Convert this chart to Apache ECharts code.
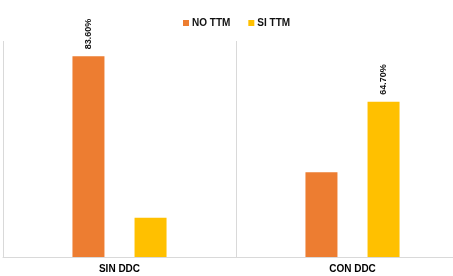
<!DOCTYPE html>
<html><head><meta charset="utf-8">
<script src="https://cdn.jsdelivr.net/npm/echarts@6/dist/echarts.min.js"></script>
<style>html,body{margin:0;padding:0;background:#fff;overflow:hidden}#wrap{width:453px;height:276px;overflow:hidden}#c{width:469px;height:276px}</style>
</head><body><div id="wrap"><div id="c"></div></div>
<script>
const categories = ['SIN DDC', 'CON DDC'];
const seriesNames = ['NO TTM', 'SI TTM'];
const noTtm = [83.6, 35.3];
const siTtm = [16.4, 64.7];
const labelShown = [[true, false], [false, true]];
const colors = ['#ED7D31', '#FFC000'];

const chart = echarts.init(document.getElementById('c'), null, {renderer: 'canvas'});
function mk(name, vals, idx) {
  return {
    name: name, type: 'bar', barWidth: 32, barGap: '94%',
    itemStyle: {color: colors[idx]},
    data: vals.map((v, i) => ({
      value: v,
      label: {
        show: labelShown[idx][i], position: 'top', rotate: 90, distance: 7,
        align: 'left', verticalAlign: 'middle',
        formatter: p => p.value.toFixed(2) + '%',
        fontFamily: '"Liberation Sans", Arial', fontSize: 9, fontWeight: 'bold', color: '#111'
      }
    }))
  };
}
chart.setOption({
  animation: false,
  legend: {
    data: seriesNames, left: 178, top: 13, itemWidth: 6, itemHeight: 6, itemGap: 18,
    icon: 'rect',
    textStyle: {fontFamily: 'Liberation Sans, Arial', fontSize: 10, fontWeight: 'bold', color: '#111', padding: [0, 0, 0, -2]}
  },
  grid: {left: 3, right: 0, top: 41, bottom: 19, containLabel: false},
  xAxis: {
    type: 'category', data: categories,
    axisLine: {show: true, lineStyle: {color: '#d9d9d9'}},
    axisTick: {show: false},
    splitLine: {show: true, lineStyle: {color: '#d9d9d9'}},
    axisLabel: {fontFamily: 'Liberation Sans, Arial', fontSize: 10, fontWeight: 'bold', color: '#000', margin: 7}
  },
  yAxis: {
    type: 'value', min: 0, max: 90, show: false,
    splitLine: {show: false}
  },
  series: [mk(seriesNames[0], noTtm, 0), mk(seriesNames[1], siTtm, 1)]
});
</script></body></html>
